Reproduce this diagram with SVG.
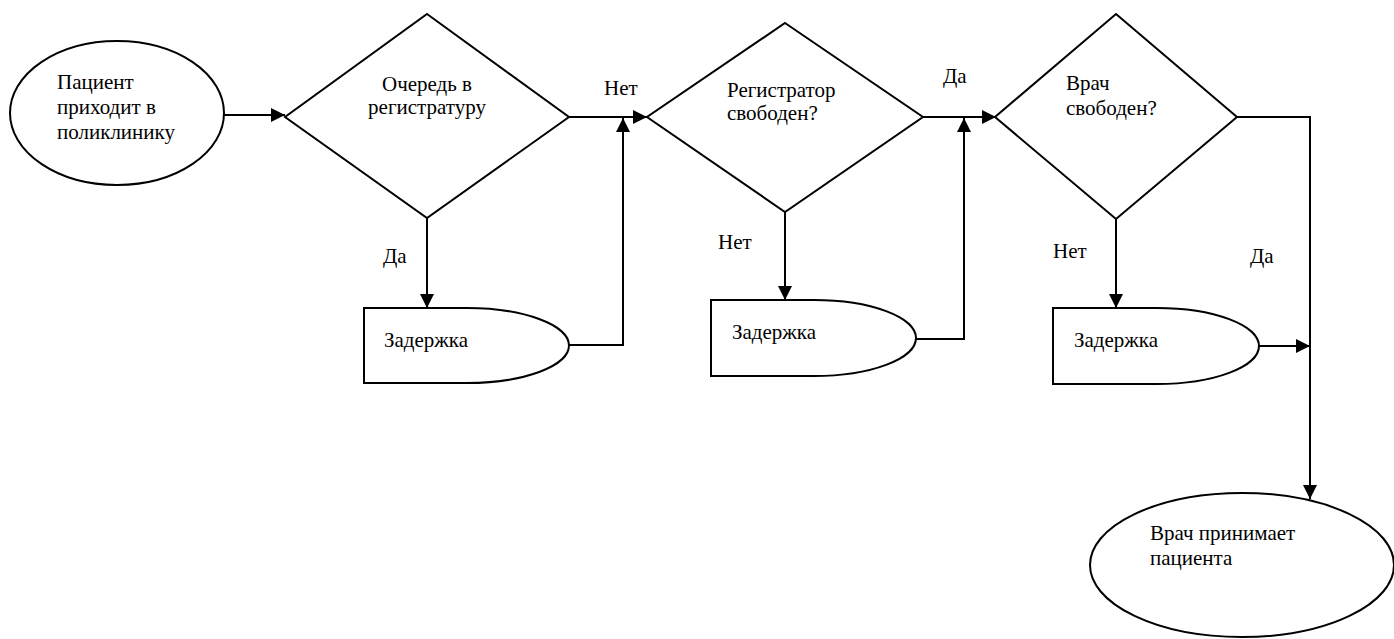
<svg xmlns="http://www.w3.org/2000/svg" width="1394" height="639" viewBox="0 0 1394 639">
<style>
.s{fill:#fff;stroke:#000;stroke-width:2}
.c{fill:none;stroke:#000;stroke-width:2}
text{font-size:21px;fill:#000;font-family:'Liberation Serif','Times New Roman',serif}
</style>
<defs>
<marker id="a" markerUnits="userSpaceOnUse" markerWidth="16" markerHeight="16" refX="14" refY="7" orient="auto">
<path d="M0,0 L14,7 L0,14 Z" fill="#000"/>
</marker>
</defs>
<g id="start">
<ellipse class="s" cx="117" cy="113" rx="107" ry="72"/>
<text x="57" y="89">Пациент</text>
<text x="57" y="114">приходит в</text>
<text x="57" y="139">поликлинику</text>
</g>
<g id="d1">
<polygon class="s" points="427,14 569,117 427,218 285,117"/>
<text x="427" y="91" text-anchor="middle">Очередь в</text>
<text x="427" y="114" text-anchor="middle">регистратуру</text>
</g>
<g id="d2">
<polygon class="s" points="785,23 923,117 785,212 647,117"/>
<text x="727" y="97">Регистратор</text>
<text x="727" y="120">свободен?</text>
</g>
<g id="d3">
<polygon class="s" points="1116,14 1237,117 1116,219 995,117"/>
<text x="1066" y="90">Врач</text>
<text x="1066" y="115">свободен?</text>
</g>
<g id="delay1">
<path class="s" d="M364,308 H467 A102,37.5 0 0 1 467,383 H364 Z"/>
<text x="384" y="347">Задержка</text>
</g>
<g id="delay2">
<path class="s" d="M711,300 H814 A102,38 0 0 1 814,376 H711 Z"/>
<text x="732" y="339">Задержка</text>
</g>
<g id="delay3">
<path class="s" d="M1053,308 H1157 A102,38 0 0 1 1157,384 H1053 Z"/>
<text x="1074" y="347">Задержка</text>
</g>
<g id="end">
<ellipse class="s" cx="1242" cy="565" rx="152" ry="72"/>
<text x="1150" y="540">Врач принимает</text>
<text x="1150" y="565">пациента</text>
</g>
<g id="connectors">
<path class="c" d="M224,115 H285" marker-end="url(#a)"/>
<path class="c" d="M569,117 H647" marker-end="url(#a)"/>
<path class="c" d="M427,218 V308" marker-end="url(#a)"/>
<path class="c" d="M569,345 H623 V118" marker-end="url(#a)"/>
<path class="c" d="M923,117 H996" marker-end="url(#a)"/>
<path class="c" d="M785,212 V300" marker-end="url(#a)"/>
<path class="c" d="M916,339 H964 V118" marker-end="url(#a)"/>
<path class="c" d="M1116,219 V308" marker-end="url(#a)"/>
<path class="c" d="M1237,117 H1310 V499" marker-end="url(#a)"/>
<path class="c" d="M1259,346 H1310" marker-end="url(#a)"/>
</g>
<g id="labels">
<text x="604" y="95">Нет</text>
<text x="943" y="83">Да</text>
<text x="383" y="263">Да</text>
<text x="718" y="249">Нет</text>
<text x="1053" y="258">Нет</text>
<text x="1250" y="263">Да</text>
</g>
</svg>
